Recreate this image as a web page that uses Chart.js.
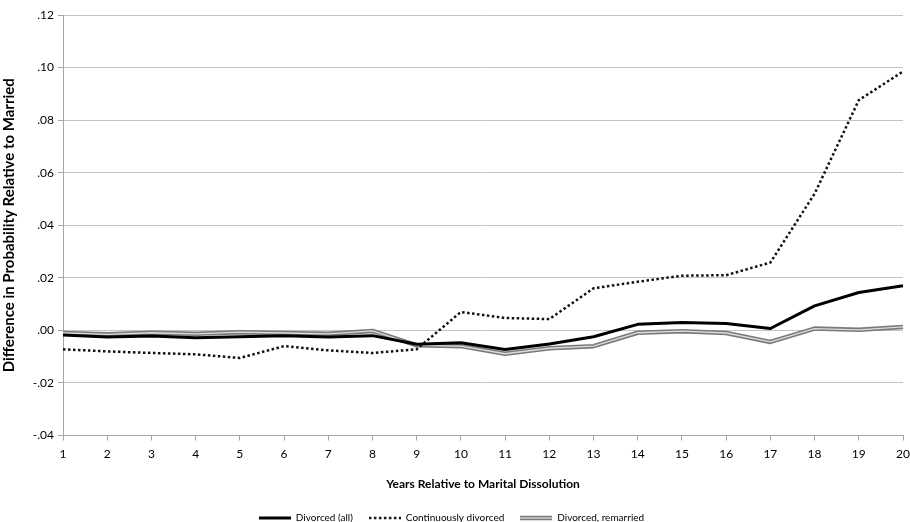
<!DOCTYPE html>
<html>
<head>
<meta charset="utf-8">
<script src="https://cdn.jsdelivr.net/npm/chart.js@4"></script>
<style>
  html, body { margin: 0; padding: 0; background: #fff; }
  #wrap { width: 910px; height: 522px; }
</style>
</head>
<body>
<div id="wrap"><canvas id="c" width="910" height="522"></canvas></div>
<script>
// years relative to dissolution
const years = ['1','2','3','4','5','6','7','8','9','10','11','12','13','14','15','16','17','18','19','20'];

const divorcedAll = [-0.0018, -0.0025, -0.0021, -0.0028, -0.0024, -0.0020, -0.0025, -0.0020, -0.0053, -0.0047,
                     -0.0073, -0.0052, -0.0024, 0.0023, 0.0030, 0.0026, 0.0007, 0.0093, 0.0144, 0.0170];
const contDivorced = [-0.0072, -0.0080, -0.0086, -0.0091, -0.0105, -0.0060, -0.0076, -0.0086, -0.0072, 0.0070,
                      0.0047, 0.0043, 0.0160, 0.0185, 0.0208, 0.0210, 0.0258, 0.0520, 0.0876, 0.0985];
const remarried = [-0.0010, -0.0015, -0.0009, -0.0013, -0.0007, -0.0010, -0.0013, -0.0002, -0.0057, -0.0060,
                   -0.0089, -0.0068, -0.0060, -0.0009, -0.0003, -0.0010, -0.0044, 0.0007, 0.0002, 0.0013];

const yTickLabels = ['-.04', '-.02', '.00', '.02', '.04', '.06', '.08', '.10', '.12'];

const FONT = 'Lato, "Open Sans", sans-serif';

// little canvases used as legend symbols
function legendSymbol(draw) {
    const c = document.createElement('canvas');
    c.width = 32;
    c.height = 6;
    const g = c.getContext('2d');
    draw(g);
    return c;
}

function strokeLine(g, color, width, dash) {
    g.beginPath();
    g.setLineDash(dash || []);
    g.strokeStyle = color;
    g.lineWidth = width;
    g.moveTo(0, 3);
    g.lineTo(32, 3);
    g.stroke();
}

onload = () => {
    const solidSym = legendSymbol(g => strokeLine(g, '#000', 3));
    const dotSym = legendSymbol(g => strokeLine(g, '#111', 2.5, [2.5, 2.5]));
    const graySym = legendSymbol(g => { strokeLine(g, '#7a7a7a', 4.5); strokeLine(g, '#dcdcdc', 1.3); });

    const ctx = document.getElementById('c');
    new Chart(ctx, {
        type: 'line',
        data: {
            labels: years,
            datasets: [
                {
                    label: 'Divorced (all)',
                    data: divorcedAll,
                    borderColor: '#000',
                    borderWidth: 3,
                    pointStyle: solidSym,
                    order: 2
                },
                {
                    label: 'Continuously divorced',
                    data: contDivorced,
                    borderColor: '#111',
                    borderWidth: 2.5,
                    borderDash: [2.5, 2.5],
                    pointStyle: dotSym,
                    order: 1
                },
                {
                    label: 'Divorced, remarried',
                    data: remarried,
                    borderColor: '#7a7a7a',
                    borderWidth: 4.5,
                    pointStyle: graySym,
                    order: 4
                },
                {
                    label: '_inner',
                    data: remarried,
                    borderColor: '#dcdcdc',
                    borderWidth: 1.3,
                    order: 3
                }
            ]
        },
        options: {
            responsive: false,
            animation: false,
            elements: {
                point: { radius: 0 },
                line: { tension: 0, fill: false, borderCapStyle: 'butt', borderJoinStyle: 'round' }
            },
            layout: { padding: { top: 15, right: 7, left: 0, bottom: -11 } },
            plugins: {
                tooltip: { enabled: false },
                legend: {
                    position: 'bottom',
                    labels: {
                        filter: (item) => item.text !== '_inner',
                        sort: (a, b) => a.datasetIndex - b.datasetIndex,
                        usePointStyle: true,
                        pointStyleWidth: 32,
                        boxHeight: 10,
                        padding: 16,
                        color: '#000',
                        font: { family: FONT, size: 10 }
                    }
                }
            },
            scales: {
                x: {
                    offset: false,
                    grid: {
                        display: true,
                        drawOnChartArea: false,
                        drawTicks: true,
                        tickLength: 5,
                        color: '#a6a6a6'
                    },
                    border: { color: '#a6a6a6', width: 1 },
                    ticks: {
                        color: '#000',
                        padding: 6,
                        maxRotation: 0,
                        autoSkip: false,
                        font: { family: FONT, size: 12 }
                    },
                    title: {
                        display: true,
                        text: 'Years Relative to Marital Dissolution',
                        color: '#000',
                        padding: { top: 0, bottom: 5.3 },
                        font: { family: FONT, size: 12, weight: 'bold' }
                    },
                    afterFit: (s) => {
                        s.height = 61.5;
                        s.paddingRight = 0;
                        s.paddingLeft = 0;
                    }
                },
                y: {
                    min: -0.04,
                    max: 0.12,
                    grid: {
                        color: '#c4c4c4',
                        lineWidth: 1,
                        drawTicks: true,
                        tickLength: 5,
                        tickColor: '#a6a6a6'
                    },
                    border: { color: '#a6a6a6', width: 1 },
                    ticks: {
                        stepSize: 0.02,
                        color: '#000',
                        padding: 4,
                        font: { family: FONT, size: 12 },
                        callback: (v, i) => yTickLabels[i]
                    },
                    title: {
                        display: true,
                        text: 'Difference in Probability Relative to Married',
                        color: '#000',
                        padding: { top: 0, bottom: 4 },
                        font: { family: FONT, size: 15, weight: 'bold' }
                    },
                    afterFit: (s) => { s.width = 63; }
                }
            }
        }
    });
};
</script>
</body>
</html>
